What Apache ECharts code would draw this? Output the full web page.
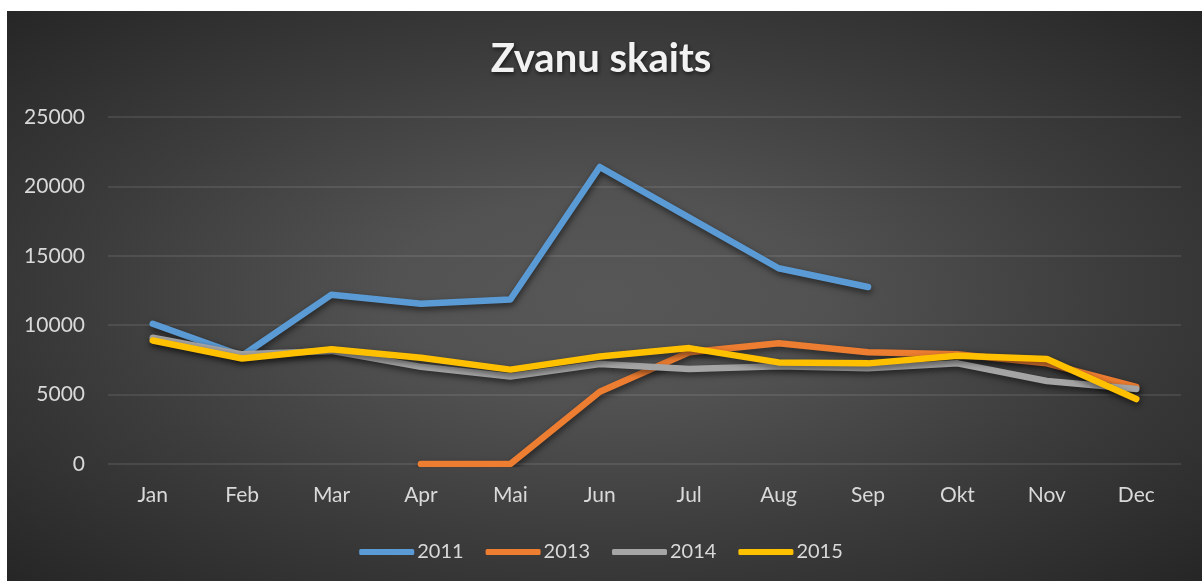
<!DOCTYPE html>
<html>
<head>
<meta charset="utf-8">
<script src="https://cdn.jsdelivr.net/npm/echarts@6/dist/echarts.min.js"></script>
<style>
html,body{margin:0;padding:0;background:#fff;}
#c{width:1202px;height:581px;}
</style>
</head>
<body>
<div id="c"></div>
<script>
var categories = ['Jan','Feb','Mar','Apr','Mai','Jun','Jul','Aug','Sep','Okt','Nov','Dec'];
var seriesNames = ['2011','2013','2014','2015'];
var s2011 = [10100, 7800, 12200, 11550, 11850, 21400, 17750, 14100, 12750, null, null, null];
var s2013 = [null, null, null, 0, 0, 5200, 8050, 8700, 8050, 7900, 7250, 5550];
var s2014 = [9100, 7900, 8150, 7000, 6300, 7200, 6850, 7050, 6900, 7250, 5980, 5400];
var s2015 = [8900, 7600, 8270, 7650, 6800, 7750, 8350, 7320, 7250, 7800, 7560, 4680];
var yTicks = [0, 5000, 10000, 15000, 20000, 25000];
var colors = ['#5b9bd5', '#ed7d31', '#a5a5a5', '#ffc000'];

var chart = echarts.init(document.getElementById('c'), null, {renderer: 'canvas'});
var allData = [s2011, s2013, s2014, s2015];
var font = 'Lato, "Open Sans", sans-serif';

function mkSeries(i) {
  return {
    name: seriesNames[i],
    type: 'line',
    data: allData[i],
    symbol: 'none',
    connectNulls: false,
    lineStyle: {
      width: 6.5,
      color: colors[i],
      cap: 'round',
      join: 'round',
      shadowColor: 'rgba(0,0,0,0.55)',
      shadowBlur: 6,
      shadowOffsetX: 1,
      shadowOffsetY: 3
    },
    itemStyle: {color: colors[i]},
    emphasis: {disabled: true},
    animation: false
  };
}

chart.setOption({
  animation: false,
  color: colors,
  graphic: [{
    type: 'rect',
    z: -10,
    silent: true,
    x: 7,
    y: 11,
    scaleX: 1195 / 570,
    shape: {x: 0, y: 0, width: 570, height: 570},
    style: {
      fill: {
        type: 'radial', x: 0.5, y: 0.5, r: 0.72,
        colorStops: [
          {offset: 0, color: '#575757'},
          {offset: 0.25, color: '#525252'},
          {offset: 0.6, color: '#3c3c3c'},
          {offset: 1, color: '#252525'}
        ]
      }
    }
  }],
  title: {
    text: 'Zvanu skaits',
    left: 'center',
    top: 34,
    textStyle: {
      color: '#f2f2f2',
      fontFamily: font,
      fontWeight: 'bold',
      fontSize: 40,
      textShadowColor: 'rgba(0,0,0,0.6)',
      textShadowBlur: 4,
      textShadowOffsetX: 1,
      textShadowOffsetY: 2
    }
  },
  legend: {
    data: seriesNames,
    left: 'center',
    top: 537,
    icon: 'roundRect',
    itemWidth: 55,
    itemHeight: 6,
    itemGap: 22,
    textStyle: {color: '#d9d9d9', fontFamily: font, fontSize: 20, padding: [0,0,0,-2]},
    selectedMode: false
  },
  grid: {left: 108, right: 21, top: 117, bottom: 117, containLabel: false},
  xAxis: {
    type: 'category',
    data: categories,
    boundaryGap: true,
    axisLine: {show: false},
    axisTick: {show: false},
    axisLabel: {color: '#d9d9d9', fontFamily: font, fontSize: 21, margin: 21}
  },
  yAxis: {
    type: 'value',
    min: yTicks[0],
    max: yTicks[yTicks.length - 1],
    interval: 5000,
    axisLine: {show: false},
    axisTick: {show: false},
    axisLabel: {color: '#d9d9d9', fontFamily: font, fontSize: 21, margin: 23,
      formatter: function (v) { return String(v); }},
    splitLine: {lineStyle: {color: 'rgba(255,255,255,0.12)', width: 1.5}}
  },
  series: [mkSeries(0), mkSeries(1), mkSeries(2), mkSeries(3)]
});
</script>
</body>
</html>
